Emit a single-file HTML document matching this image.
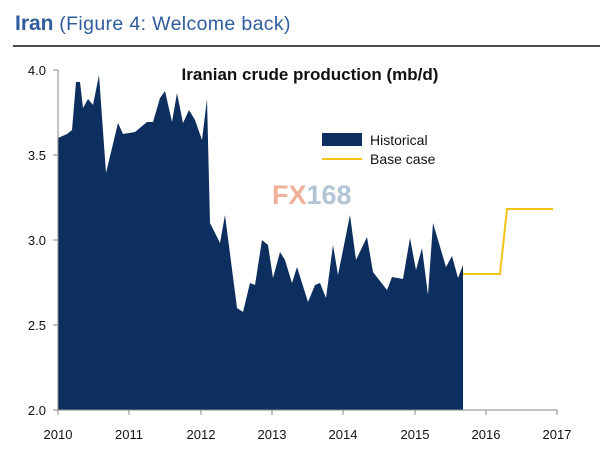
<!DOCTYPE html><html><head><style>body{margin:0;background:#fff;width:600px;height:452px;overflow:hidden}</style></head><body>
<svg width="600" height="452" xmlns="http://www.w3.org/2000/svg" font-family="Liberation Sans, sans-serif">
<text x="15" y="30" font-size="21" fill="#2e5c9e"><tspan font-weight="bold">Iran</tspan><tspan font-size="19.5" textLength="237"> (Figure 4: Welcome back)</tspan></text>
<line x1="13" y1="46" x2="600" y2="46" stroke="#111" stroke-width="1.5"/>
<polygon fill="#0d2f60" points="58,410 58,138 67,134 72,130 76,82 80,82 83,108 88,99 93,105 99,75 106,173 118,123 123,134 135,132 147,122 153,122 160,98 165,91 172,122 177,93 183,123 189,110 195,120 202,140 207,99 210,223 220,243 225,215 237,308 243,312 250,283 255,285 262,240 268,245 273,278 280,252 285,260 292,283 297,267 308,302 315,285 320,283 326,298 333,245 338,275 350,215 356,260 367,237 373,272 387,290 392,277 403,279 410,238 416,270 422,248 428,295 433,223 446,267 452,256 458,278 463,265 463,410"/>
<polyline fill="none" stroke="#f2c318" stroke-width="2" points="463,274 500,274 507,209 553,209"/>
<text x="272" y="204" font-size="27" font-weight="bold" fill="#eea98e" opacity="0.9">FX<tspan fill="#a9bfd2">168</tspan></text>
<line x1="58" y1="70" x2="58" y2="410" stroke="#888"/>
<line x1="58" y1="410" x2="557" y2="410" stroke="#888"/>
<g stroke="#888">
<line x1="53" y1="70" x2="58" y2="70"/><line x1="53" y1="155" x2="58" y2="155"/><line x1="53" y1="240" x2="58" y2="240"/><line x1="53" y1="325" x2="58" y2="325"/><line x1="53" y1="410" x2="58" y2="410"/>
<line x1="58" y1="410" x2="58" y2="415"/><line x1="129" y1="410" x2="129" y2="415"/><line x1="201" y1="410" x2="201" y2="415"/><line x1="272" y1="410" x2="272" y2="415"/><line x1="343" y1="410" x2="343" y2="415"/><line x1="415" y1="410" x2="415" y2="415"/><line x1="486" y1="410" x2="486" y2="415"/><line x1="557" y1="410" x2="557" y2="415"/>
</g>
<g font-size="13" fill="#111" text-anchor="end">
<text x="46" y="75">4.0</text><text x="46" y="160">3.5</text><text x="46" y="245">3.0</text><text x="46" y="330">2.5</text><text x="46" y="415">2.0</text>
</g>
<g font-size="13" fill="#111" text-anchor="middle">
<text x="58" y="439">2010</text><text x="129" y="439">2011</text><text x="201" y="439">2012</text><text x="272" y="439">2013</text><text x="343" y="439">2014</text><text x="415" y="439">2015</text><text x="486" y="439">2016</text><text x="557" y="439">2017</text>
</g>
<text x="310" y="80" font-size="17" font-weight="bold" fill="#111" text-anchor="middle">Iranian crude production (mb/d)</text>
<rect x="322" y="133" width="40" height="13" fill="#0d2f60"/>
<text x="370" y="145" font-size="14" fill="#111">Historical</text>
<line x1="322" y1="159" x2="362" y2="159" stroke="#f2c318" stroke-width="2"/>
<text x="370" y="164" font-size="14" fill="#111">Base case</text>
</svg></body></html>
